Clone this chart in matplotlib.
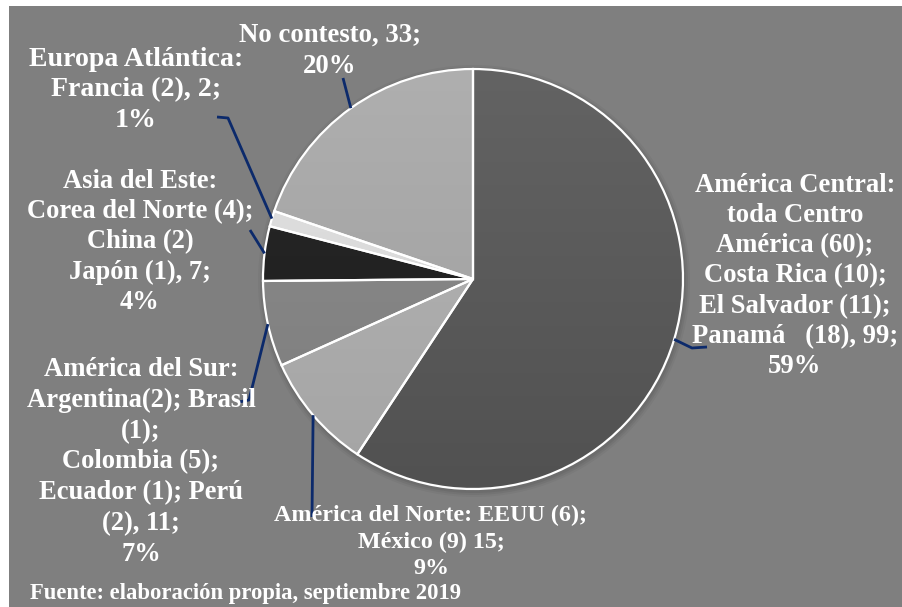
import numpy as np
import matplotlib
matplotlib.use("Agg")
import matplotlib.pyplot as plt
from matplotlib.patches import Rectangle

# Survey responses by region of origin
regions = ["América Central", "América del Norte", "América del Sur",
           "Asia del Este", "Europa Atlántica", "No contesto"]
counts = [99, 15, 11, 7, 2, 33]
percent_labels = ["59%", "9%", "7%", "4%", "1%", "20%"]
label_texts = [
    "América Central:\ntoda Centro\nAmérica (60);\nCosta Rica (10);\nEl Salvador (11);\nPanamá   (18), 99;\n59%",
    "América del Norte: EEUU (6);\nMéxico (9) 15;\n9%",
    "América del Sur:\nArgentina(2); Brasil\n(1);\nColombia (5);\nEcuador (1); Perú\n(2), 11;\n7%",
    "Asia del Este:\nCorea del Norte (4);\nChina (2)\nJapón (1), 7;\n4%",
    "Europa Atlántica:\nFrancia (2), 2;\n1%",
    "No contesto, 33;\n20%",
]
source_note = "Fuente: elaboración propia, septiembre 2019"

slice_colors = ["#5a5a5a", "#adadad", "#858585", "#222222", "#dadada", "#a6a6a6"]
bg_color = "#7f7f7f"
leader_color = "#0c2a6b"

W, H = 903, 607
fig = plt.figure(figsize=(W / 100, H / 100), dpi=100, facecolor="white")
ax = fig.add_axes([0, 0, 1, 1])

cx, cy, R = 473, 279, 210

wedges, _ = ax.pie(counts, colors=slice_colors, startangle=-90, counterclock=True,
                   center=(cx, cy), radius=R,
                   wedgeprops=dict(edgecolor="white", linewidth=1.6, zorder=3))
ax.set_xlim(0, W)
ax.set_ylim(H, 0)
ax.set_aspect("auto")
ax.axis("off")

# panel background
ax.add_patch(Rectangle((9, 6), W - 9, H - 6, facecolor=bg_color, edgecolor="none", zorder=0))

# soft shadow ring around the pie
for k, a in [(6, 0.04), (4, 0.05), (2, 0.06)]:
    circ = plt.Circle((cx + 1, cy + 2), R + k, color="black", alpha=a, zorder=1, lw=0)
    ax.add_patch(circ)

# subtle vertical gradient inside each slice
grad = np.linspace(1, 0, 256).reshape(-1, 1)
for w, col in zip(wedges, slice_colors):
    base = np.array(matplotlib.colors.to_rgb(col))
    top = np.clip(base + 0.035, 0, 1)
    bot = np.clip(base - 0.035, 0, 1)
    img = bot[None, None, :] + (top - bot)[None, None, :] * grad[:, :, None]
    im = ax.imshow(img, extent=(cx - R, cx + R, cy + R, cy - R), zorder=2.5,
                   interpolation="bilinear", aspect="auto")
    im.set_clip_path(w)
    w.set_facecolor("none")

ax.set_xlim(0, W)
ax.set_ylim(H, 0)

font = dict(family="Liberation Serif", weight="bold", color="white")

# label anchors (center of text block), sizes, spacing and leader elbows
label_pos = [(795, 276), (431, 542), (141, 462), (140, 242), (136, 90), (330, 51)]
label_size = [19.2, 17.3, 19.1, 19.1, 20.1, 19.3]
label_spacing = [1.27, 1.32, 1.31, 1.28, 1.275, 1.35]
leader_tail = [
    [(692, 348), (707, 347)],
    [(312, 517)],
    [(249, 400), (239, 402)],
    [(250, 230)],
    [(228, 118), (217, 117)],
    [(343, 78)],
]

theta = np.deg2rad([(w.theta1 + w.theta2) / 2 for w in wedges])
for t, tail, (lx, ly), txt, fs, ls in zip(theta, leader_tail, label_pos, label_texts,
                                          label_size, label_spacing):
    sx, sy = cx + R * np.cos(t), cy + R * np.sin(t)
    xs = [sx] + [p[0] for p in tail]
    ys = [sy] + [p[1] for p in tail]
    ax.plot(xs, ys, color=leader_color, lw=2.0, zorder=4, solid_capstyle="butt")
    ax.text(lx, ly, txt, ha="center", va="center", multialignment="center",
            linespacing=ls, fontsize=fs, zorder=5, **font)

ax.text(30, 594, source_note, ha="left", va="center", fontsize=16.3, zorder=5, **font)

fig.savefig("out.png", dpi=100, facecolor="white")
